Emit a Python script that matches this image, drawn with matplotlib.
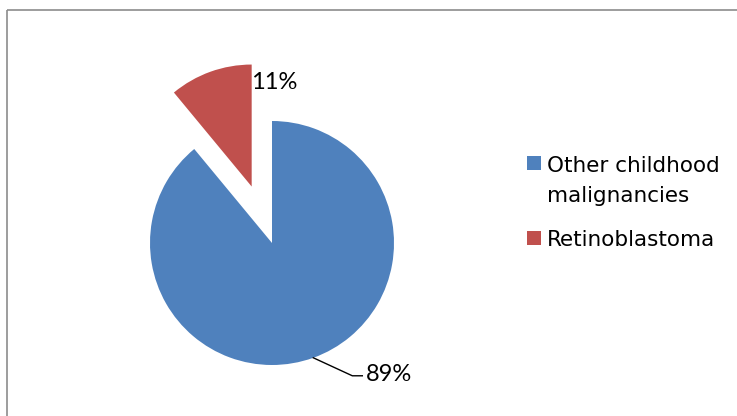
import matplotlib
matplotlib.use("Agg")
import matplotlib.pyplot as plt
from matplotlib.patches import Rectangle
import numpy as np

categories = ["Other childhood\nmalignancies", "Retinoblastoma"]
shares = [0.89, 0.11]
colors = ["#4F81BD", "#C0504D"]

W, H = 737, 416
fig = plt.figure(figsize=(W / 100, H / 100), dpi=100)
ax = fig.add_axes([0, 0, 1, 1])

cx, cy, r = 272, H - 243, 122
wedges, _ = ax.pie(shares, colors=colors, startangle=90, counterclock=False,
                   center=(cx, cy), radius=r, explode=[0, 60],
                   wedgeprops=dict(linewidth=0), frame=True)
ax.set_xlim(0, W)
ax.set_ylim(0, H)
ax.set_aspect("equal")
ax.axis("off")

label_font = ["Lato", "DejaVu Sans"]
# 89% label with leader line
w0 = wedges[0]
th = np.deg2rad((w0.theta1 + w0.theta2) / 2)
px, py = w0.center[0] + r * np.cos(th), w0.center[1] + r * np.sin(th)
ax.plot([px, px + 39, px + 49], [py, py - 18, py - 18], color="black", lw=1.0)
ax.text(px + 53, py - 17, f"{shares[0]:.0%}", fontsize=17, family=label_font,
        ha="left", va="center")

# 11% label
w1 = wedges[1]
ax.text(w1.center[0] - 1, w1.center[1] + 104, f"{shares[1]:.0%}", fontsize=17,
        family=label_font, ha="left", va="center")

# legend (drawn manually so the marker aligns with the first text line)
base = H - 171.5
line_gap = 30
entry_gap = 15
for lab, col in zip(categories, colors):
    ax.add_patch(Rectangle((527, base + 1.5), 14, 14, facecolor=col, edgecolor="none"))
    for line in lab.split("\n"):
        ax.text(547, base, line, fontsize=15.5, family="DejaVu Sans",
                ha="left", va="baseline")
        base -= line_gap
    base -= entry_gap

# outer border (partial, as in reference)
ax.plot([7.5, 7.5], [0, H - 9.5], color="#8c8c8c", lw=1.2, solid_capstyle="butt")
ax.plot([7, W], [H - 9.5, H - 9.5], color="#8c8c8c", lw=1.2, solid_capstyle="butt")

fig.savefig("out.png", dpi=100, facecolor="white")
